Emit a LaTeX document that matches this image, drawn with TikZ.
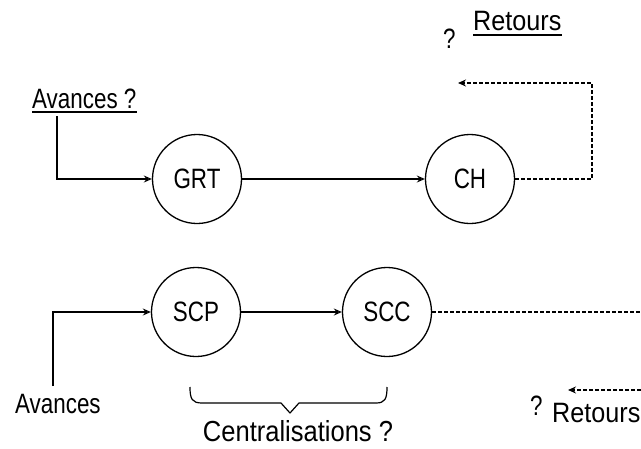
\documentclass[tikz,border=0pt]{standalone}
\usepackage{fontspec}
\setmainfont{Liberation Sans}
\newfontfamily\lblfont[FakeStretch=0.8]{Liberation Sans}
\newfontfamily\widefont[FakeStretch=0.9]{Liberation Sans}
\newfontfamily\capfont[FakeStretch=0.88]{Liberation Sans}
\usetikzlibrary{arrows.meta}
\begin{document}
\begin{tikzpicture}[x=1pt,y=-1pt,
  unit/.style={circle,draw,line width=1.3pt,minimum size=89pt,inner sep=0pt,
    font=\lblfont\fontsize{28}{30}\selectfont},
  lbl/.style={inner sep=0pt,font=\lblfont\fontsize{28}{30}\selectfont},
  wlbl/.style={inner sep=0pt,font=\widefont\fontsize{28}{30}\selectfont},
  biglbl/.style={inner sep=0pt,font=\capfont\fontsize{29}{31}\selectfont},
  flow/.style={line width=1.2pt,-{Stealth[open,length=8pt,width=7pt]}},
  ret/.style={line width=1.2pt,dash pattern=on 4pt off 2pt},
  retarrow/.style={ret,-{Stealth[open,length=8pt,width=7pt]}},
  uline/.style={line width=1.2pt},
  brace/.style={line width=1.2pt,line join=round}]
\useasboundingbox (0,0) rectangle (641,448);

% upper chain
\node[unit] (grt) at (197,179) {GRT};
\node[unit] (ch) at (470,179) {CH};
\node[lbl,anchor=base west] (av1) at (32,108) {Avances ?};
\draw[uline] ([yshift=-4pt]av1.base west) -- ([yshift=-4pt]av1.base east);
\coordinate (a1) at (57,116);
\draw[flow] (a1) |- (grt.west);
\draw[flow] (grt.east) -- (ch.west);

% upper return loop
\node[lbl,anchor=base west] (q1) at (443,48) {?};
\node[wlbl,anchor=base west] (ret1) at (473,30) {Retours};
\draw[uline] ([yshift=-5pt]ret1.base west) -- ([yshift=-5pt]ret1.base east);
\coordinate (r1) at (592,83);
\coordinate (r1end) at (458,83);
\draw[retarrow] (ch.east) -| (r1) -- (r1end);

% lower chain
\node[unit] (scp) at (196,312) {SCP};
\node[unit] (scc) at (387,312) {SCC};
\node[lbl,anchor=base west] (av2) at (15,413) {Avances};
\coordinate (a2) at (53,386);
\draw[flow] (a2) |- (scp.west);
\draw[flow] (scp.east) -- (scc.west);
\coordinate (e2) at (641,312);
\draw[ret] (scc.east) -- (e2);

% brace under SCP and SCC
\coordinate (bl) at (190,387);
\coordinate (br) at (387,387);
\coordinate (bt) at (290,413);
\draw[brace] (bl) .. controls (190,399) and (192,403) .. (202,403) -- (281,403) -- (bt)
  -- (299,403) -- (376,403) .. controls (385,403) and (387,399) .. (br);
\node[biglbl,anchor=base] (cent) at (298,441) {Centralisations ?};

% lower return
\coordinate (r2s) at (641,390);
\coordinate (r2e) at (568,390);
\draw[retarrow] (r2s) -- (r2e);
\node[lbl,anchor=base west] (q2) at (530,415) {?};
\node[wlbl,anchor=base west] (ret2) at (552,422) {Retours};
\end{tikzpicture}
\end{document}
